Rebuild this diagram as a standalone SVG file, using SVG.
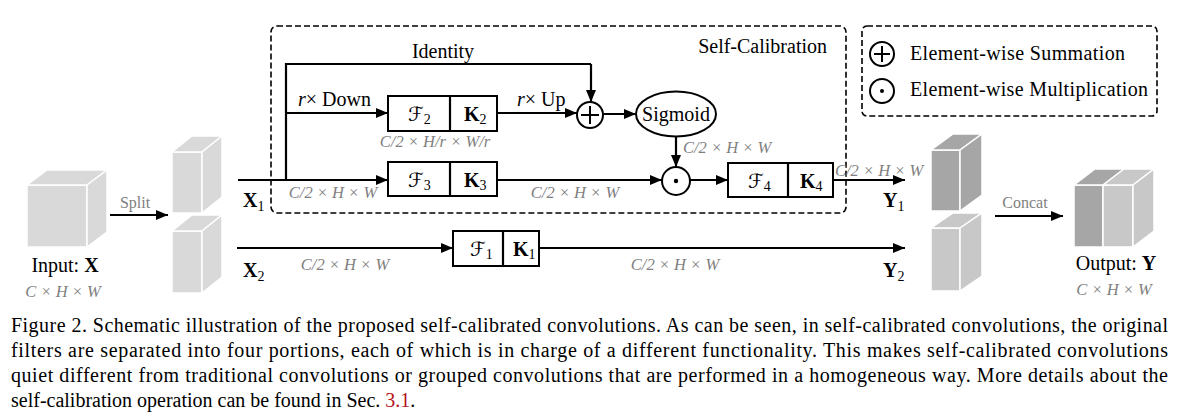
<svg xmlns="http://www.w3.org/2000/svg" width="1181" height="420" viewBox="0 0 1181 420">
<defs>
<marker id="ah" markerWidth="12" markerHeight="10" refX="12" refY="5" orient="auto" markerUnits="userSpaceOnUse"><path d="M0,0 L12,5 L0,10 Z" fill="#000"/></marker>
<style>
text{font-family:"Liberation Serif","Times New Roman",serif;fill:#000}
.lbl{font-size:20px}
.dim{font-size:16.5px;font-style:italic;fill:#7f7f7f}
.gr{font-size:16px;fill:#7f7f7f}
.ln{stroke:#000;stroke-width:2.2;fill:none}
.arr{stroke:#000;stroke-width:2.2;fill:none;marker-end:url(#ah)}
.box{fill:#fff;stroke:#000;stroke-width:2}
.dash{fill:none;stroke:#000;stroke-width:1.6;stroke-dasharray:6,3}
.c1{fill:#d9d9d9;stroke:#fff;stroke-width:1.5}
.c2{fill:#a6a6a6;stroke:#fff;stroke-width:1.5}
.c3{fill:#c8c8c8;stroke:#fff;stroke-width:1.5}
.cap{font-size:20px}
.sym{font-size:20px;font-family:"DejaVu Sans","Liberation Serif",serif;font-style:italic}
</style>
</defs>
<rect width="1181" height="420" fill="#fff"/>

<g id="input">
<polygon class="c1" points="27,185 87,185 87,247 27,247"/>
<polygon class="c1" points="27,185 47,170 107,170 87,185"/>
<polygon class="c1" points="87,185 107,170 107,232 87,247"/>
<text class="lbl" x="65" y="272" text-anchor="middle">Input: <tspan font-weight="bold">X</tspan></text>
<text class="dim" x="63" y="297" text-anchor="middle">C × H × W</text>
</g>

<g id="x1cube">
<polygon class="c1" points="172,152 202,152 202,213 172,213"/>
<polygon class="c1" points="172,152 192,136 222,136 202,152"/>
<polygon class="c1" points="202,152 222,136 222,197 202,213"/>
</g>
<g id="x2cube">
<polygon class="c1" points="172,231 202,231 202,293 172,293"/>
<polygon class="c1" points="172,231 192,215 222,215 202,231"/>
<polygon class="c1" points="202,231 222,215 222,277 202,293"/>
</g>

<g id="selfcal">
<rect class="dash" x="271" y="26" width="575" height="187" rx="6"/>
<text class="lbl" x="827" y="53" text-anchor="end">Self-Calibration</text>
</g>

<g id="legend">
<rect class="dash" x="862" y="26" width="295" height="90" rx="5"/>
<circle cx="882" cy="54" r="12" fill="#fff" stroke="#000" stroke-width="2"/>
<path d="M874,54 H890 M882,46 V62" stroke="#000" stroke-width="2"/>
<text class="lbl" x="910" y="60" textLength="215" lengthAdjust="spacing">Element-wise Summation</text>
<circle cx="882" cy="91" r="12" fill="#fff" stroke="#000" stroke-width="2"/>
<circle cx="882" cy="91" r="2" fill="#000"/>
<text class="lbl" x="910" y="96" textLength="238" lengthAdjust="spacing">Element-wise Multiplication</text>
</g>

<g id="connectors">
<line class="arr" x1="110" y1="215" x2="168" y2="215"/>
<line class="ln" x1="238" y1="180" x2="286" y2="180"/>
<path class="arr" d="M286,180 H388"/>
<path class="ln" d="M286,180 V64 H591"/>
<path class="arr" d="M591,64 V102"/>
<path class="arr" d="M286,113 H388"/>
<path class="arr" d="M497,113 H577"/>
<path class="arr" d="M603,114 H636"/>
<path class="arr" d="M676,137 V167"/>
<path class="arr" d="M497,180 H662"/>
<path class="arr" d="M690,180 H728"/>
<path class="arr" d="M833,180 H905"/>
<path class="arr" d="M237,248 H453"/>
<path class="arr" d="M539,248 H905"/>
<path class="arr" d="M995,216 H1063"/>
</g>

<g id="conn-labels">
<text class="gr" x="135" y="208" text-anchor="middle">Split</text>
<text class="lbl" x="443" y="58" text-anchor="middle">Identity</text>
<text class="lbl" x="298" y="106"><tspan font-style="italic">r</tspan>× Down</text>
<text class="lbl" x="517" y="106"><tspan font-style="italic">r</tspan>× Up</text>
<text class="dim" x="435" y="147" text-anchor="middle">C/2 × H/r × W/r</text>
<text class="dim" x="333" y="198" text-anchor="middle">C/2 × H × W</text>
<text class="dim" x="575" y="198" text-anchor="middle">C/2 × H × W</text>
<text class="dim" x="683" y="153">C/2 × H × W</text>
<text class="dim" x="835" y="176">C/2 × H × W</text>
<text class="dim" x="345" y="270" text-anchor="middle">C/2 × H × W</text>
<text class="dim" x="675" y="270" text-anchor="middle">C/2 × H × W</text>
<text class="gr" x="1025" y="208" text-anchor="middle">Concat</text>
<text class="lbl" x="243" y="207" font-weight="bold">X<tspan font-size="14" font-weight="normal" dy="4">1</tspan></text>
<text class="lbl" x="243" y="277" font-weight="bold">X<tspan font-size="14" font-weight="normal" dy="4">2</tspan></text>
<text class="lbl" x="883" y="207" font-weight="bold">Y<tspan font-size="14" font-weight="normal" dy="4">1</tspan></text>
<text class="lbl" x="883" y="277" font-weight="bold">Y<tspan font-size="14" font-weight="normal" dy="4">2</tspan></text>
</g>

<g id="fk2">
<rect class="box" x="388" y="96" width="109" height="35"/>
<line class="ln" x1="450" y1="96" x2="450" y2="131" stroke-width="2"/>
<text class="sym" x="408" y="121">ℱ<tspan font-size="14" font-family="Liberation Serif" font-style="normal" dy="3">2</tspan></text>
<text class="lbl" x="464" y="121" font-weight="bold">K<tspan font-size="14" font-weight="normal" dy="3">2</tspan></text>
</g>

<g id="fk3">
<rect class="box" x="388" y="162" width="109" height="34"/>
<line class="ln" x1="450" y1="162" x2="450" y2="196" stroke-width="2"/>
<text class="sym" x="408" y="187">ℱ<tspan font-size="14" font-family="Liberation Serif" font-style="normal" dy="3">3</tspan></text>
<text class="lbl" x="464" y="187" font-weight="bold">K<tspan font-size="14" font-weight="normal" dy="3">3</tspan></text>
</g>

<g id="plus">
<circle cx="590" cy="115" r="13" fill="#fff" stroke="#000" stroke-width="2"/>
<path d="M581,115 H599 M590,106 V124" stroke="#000" stroke-width="2"/>
</g>

<g id="sigmoid">
<ellipse cx="676" cy="114" rx="40" ry="22.5" fill="#fff" stroke="#000" stroke-width="2"/>
<text class="lbl" x="676" y="121" text-anchor="middle">Sigmoid</text>
</g>

<g id="mult">
<circle cx="676" cy="181" r="14" fill="#fff" stroke="#000" stroke-width="2"/>
<circle cx="676" cy="181" r="2.2" fill="#000"/>
</g>

<g id="fk4">
<rect class="box" x="728" y="163" width="105" height="34"/>
<line class="ln" x1="788" y1="163" x2="788" y2="197" stroke-width="2"/>
<text class="sym" x="748" y="188">ℱ<tspan font-size="14" font-family="Liberation Serif" font-style="normal" dy="3">4</tspan></text>
<text class="lbl" x="800" y="188" font-weight="bold">K<tspan font-size="14" font-weight="normal" dy="3">4</tspan></text>
</g>

<g id="fk1">
<rect class="box" x="453" y="231" width="86" height="35"/>
<line class="ln" x1="503" y1="231" x2="503" y2="266" stroke-width="2"/>
<text class="sym" x="470" y="256">ℱ<tspan font-size="14" font-family="Liberation Serif" font-style="normal" dy="3">1</tspan></text>
<text class="lbl" x="513" y="256" font-weight="bold">K<tspan font-size="14" font-weight="normal" dy="3">1</tspan></text>
</g>

<g id="y1cube">
<polygon class="c2" points="931,150 960,150 960,211 931,211"/>
<polygon class="c2" points="931,150 953,134 982,134 960,150"/>
<polygon class="c2" points="960,150 982,134 982,195 960,211"/>
</g>
<g id="y2cube">
<polygon class="c3" points="931,228 960,228 960,291 931,291"/>
<polygon class="c3" points="931,228 953,213 982,213 960,228"/>
<polygon class="c3" points="960,228 982,213 982,276 960,291"/>
</g>

<g id="output">
<polygon class="c2" points="1074,185 1103,185 1103,247 1074,247"/>
<polygon class="c3" points="1103,185 1133,185 1133,247 1103,247"/>
<polygon class="c2" points="1074,185 1095,169 1124,169 1103,185"/>
<polygon class="c3" points="1103,185 1124,169 1154,169 1133,185"/>
<polygon class="c3" points="1133,185 1154,169 1154,231 1133,247"/>
<text class="lbl" x="1116" y="270" text-anchor="middle">Output: <tspan font-weight="bold">Y</tspan></text>
<text class="dim" x="1114" y="295" text-anchor="middle">C × H × W</text>
</g>

<g id="caption">
<text class="cap" x="11" y="332" textLength="1157" lengthAdjust="spacing">Figure 2. Schematic illustration of the proposed self-calibrated convolutions.  As can be seen, in self-calibrated convolutions, the original</text>
<text class="cap" x="11" y="357" textLength="1157" lengthAdjust="spacing">filters are separated into four portions, each of which is in charge of a different functionality.  This makes self-calibrated convolutions</text>
<text class="cap" x="11" y="382" textLength="1157" lengthAdjust="spacing">quiet different from traditional convolutions or grouped convolutions that are performed in a homogeneous way.  More details about the</text>
<text class="cap" x="11" y="407">self-calibration operation can be found in Sec. <tspan fill="#b5121b">3.1</tspan>.</text>
</g>
</svg>
